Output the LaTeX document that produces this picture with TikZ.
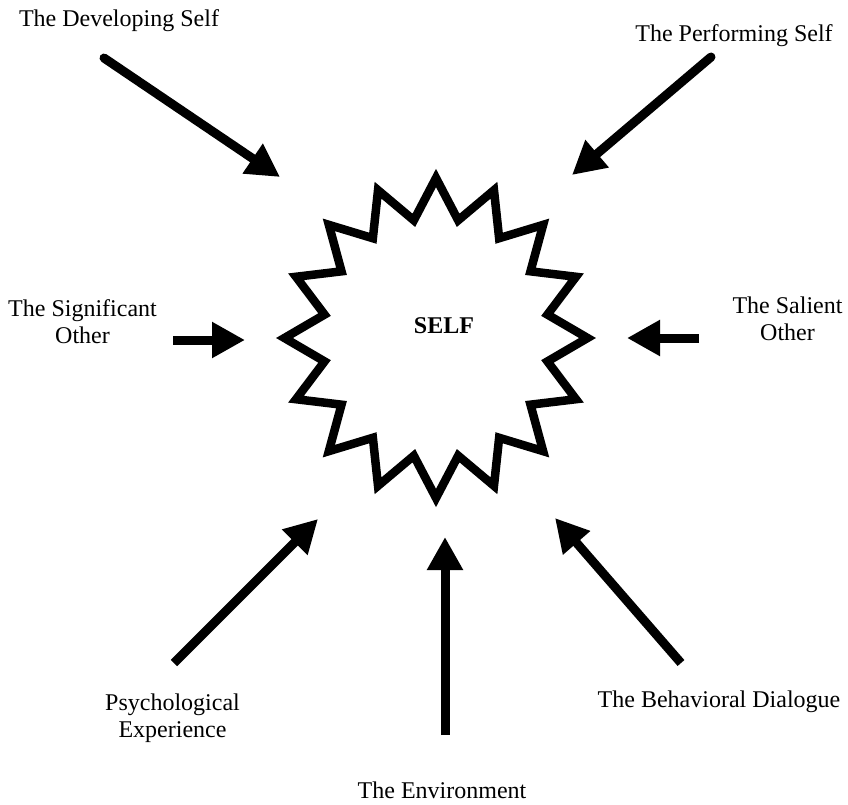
\documentclass[tikz,border=0pt]{standalone}
\usepackage{fontspec}
\setmainfont{Liberation Serif}
\usetikzlibrary{arrows.meta}
\begin{document}
\begin{tikzpicture}[x=1bp,y=-1bp,
  lbl/.style={inner sep=0pt, align=center, font=\fontsize{24bp}{27bp}\selectfont},
  bigarrow/.style={line width=9bp, -{Triangle[width=34bp,length=33bp]}},
  starline/.style={line width=8.5bp, line join=miter, miter limit=10}]
\useasboundingbox (0,0) rectangle (848,805);
% star
\begin{scope}[shift={(436,338)}, xscale=0.947]
\draw[starline] (0:160) \foreach \i in {1,...,31} { -- ({\i*11.25}:{mod(\i,2)==1 ? 120 : 160}) } -- cycle;
\end{scope}
\node[inner sep=0pt, font=\fontsize{24bp}{27bp}\selectfont\bfseries] (self) at (444,326) {SELF};
% labels
\node[lbl, anchor=base] (dev) at (119,27) {The Developing Self};
\node[lbl, anchor=base] (perf) at (734,42) {The Performing Self};
\node[lbl, anchor=north] (sig) at (82.5,299.5) {The Significant\\Other};
\node[lbl, anchor=north] (sal) at (787.5,296.5) {The Salient\\Other};
\node[lbl, anchor=north] (psy) at (172.5,693.5) {Psychological\\Experience};
\node[lbl, anchor=base] (env) at (442,798) {The Environment};
\node[lbl, anchor=base] (beh) at (719,707) {The Behavioral Dialogue};
% arrow ends
\coordinate (devA) at (104,58);   \coordinate (devB) at (280,177);
\coordinate (perfA) at (711,57);  \coordinate (perfB) at (572,175);
\coordinate (sigA) at (173,340);  \coordinate (sigB) at (245,340);
\coordinate (salA) at (699,338);  \coordinate (salB) at (627,338);
\coordinate (psyA) at (174,663);  \coordinate (psyB) at (318,519);
\coordinate (envA) at (445,735);  \coordinate (envB) at (445,537);
\coordinate (behA) at (681,663);  \coordinate (behB) at (555,518);
\draw[bigarrow, line cap=round] (devA) -- (devB);
\draw[bigarrow, line cap=round] (perfA) -- (perfB);
\draw[bigarrow] (sigA) -- (sigB);
\draw[bigarrow] (salA) -- (salB);
\draw[bigarrow] (psyA) -- (psyB);
\draw[bigarrow] (envA) -- (envB);
\draw[bigarrow] (behA) -- (behB);
\end{tikzpicture}
\end{document}
